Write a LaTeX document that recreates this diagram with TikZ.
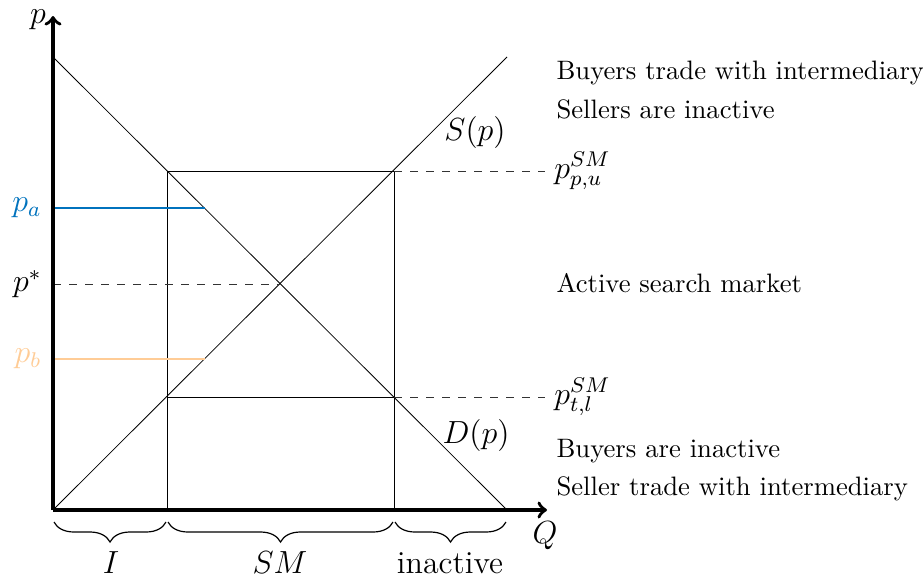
\documentclass[tikz,border=0pt]{standalone}
\usetikzlibrary{decorations.pathreplacing}
\definecolor{pablue}{RGB}{0,114,189}
\definecolor{pborange}{RGB}{255,204,150}
\tikzset{
  axisline/.style={line width=1.3pt,->},
  curve/.style={line width=0.3pt},
  guide/.style={dashed,line width=0.35pt,black!80},
  bigmath/.style={font=\large},
  note/.style={anchor=base west,inner sep=0pt},
  underbrace/.style={decorate,decoration={brace,mirror,amplitude=7.5pt},line width=0.45pt},
}
\begin{document}
\begin{tikzpicture}[x=0.375pt,y=-0.375pt]
\useasboundingbox (0,0) rectangle (923,578);
% key points
\coordinate (O) at (53,510);
\coordinate (Ytop) at (53,16);
\coordinate (Xend) at (547,510);
\coordinate (Ssta) at (53,510);
\coordinate (Send) at (507,57);
\coordinate (Dsta) at (53,57);
\coordinate (Dend) at (507,510);
\coordinate (UL) at (167,171);
\coordinate (UR) at (394,171);
\coordinate (LR) at (394,397);
\coordinate (LL) at (167,397);
\coordinate (Eq) at (280,284);
\coordinate (LLaxis) at (167,510);
\coordinate (LRaxis) at (394,510);
\coordinate (Pa0) at (53,208);
\coordinate (Pa1) at (205,208);
\coordinate (Pb0) at (53,359);
\coordinate (Pb1) at (205,359);
\coordinate (Ps0) at (53,284);
\coordinate (Ru) at (545,171);
\coordinate (Rl) at (545,397);

% supply and demand
\draw[curve] (Ssta) -- (Send);
\draw[curve] (Dsta) -- (Dend);
% search market box
\draw[curve] (UL) -- (UR) -- (LRaxis);
\draw[curve] (UL) -- (LLaxis);
\draw[curve] (LL) -- (LR);
% price levels
\draw[guide] (Ps0) -- (Eq);
\draw[guide] (UR) -- (Ru);
\draw[guide] (LR) -- (Rl);
\draw[pablue,line width=0.75pt] (Pa0) -- (Pa1);
\draw[pborange,line width=0.75pt] (Pb0) -- (Pb1);
% axes
\draw[axisline] (O) -- (Ytop);
\draw[axisline] (O) -- (Xend);

% axis labels
\node[bigmath] (plab) at (38,20) {$p$};
\node[bigmath] (qlab) at (545,536) {$Q$};
\node[bigmath,anchor=east,inner sep=0pt] (palab) at (42,208) {\color{pablue}$p_a$};
\node[bigmath,anchor=east,inner sep=0pt] (pslab) at (42,284) {$p^*$};
\node[bigmath,anchor=east,inner sep=0pt] (pblab) at (42,359) {\color{pborange}$p_b$};
\node[bigmath] (slab) at (475,132) {$S(p)$};
\node[bigmath] (dlab) at (476,435) {$D(p)$};
\node[bigmath,anchor=west] (pulab) at (Ru) {$p^{SM}_{p,u}$};
\node[bigmath,anchor=west] (pllab) at (Rl) {$p^{SM}_{t,l}$};

% region descriptions
\node[note] (n1) at (556,79) {Buyers trade with intermediary};
\node[note] (n2) at (556,118) {Sellers are inactive};
\node[note] (n3) at (556,292) {Active search market};
\node[note] (n4) at (556,457) {Buyers are inactive};
\node[note] (n5) at (556,495) {Seller trade with intermediary};

% quantity ranges
\draw[underbrace] (54,522) -- (166,522);
\draw[underbrace] (168,522) -- (393,522);
\draw[underbrace] (395,522) -- (506,522);
\node[bigmath] (ilab) at (111,563) {$I$};
\node[bigmath] (smlab) at (280,563) {$SM$};
\node[bigmath] (inlab) at (450,563) {inactive};
\end{tikzpicture}
\end{document}
